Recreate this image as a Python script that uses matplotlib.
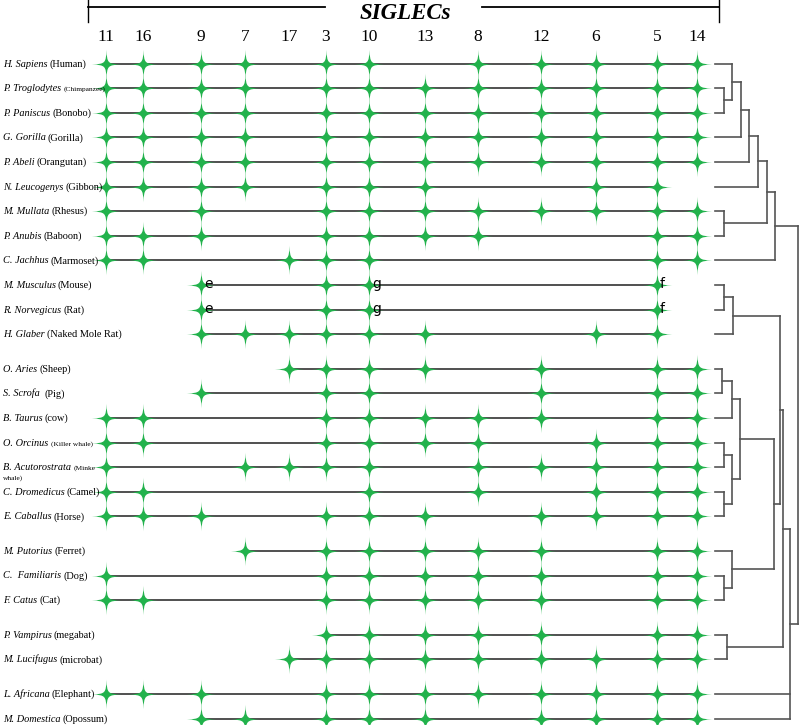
import matplotlib
matplotlib.use("Agg")
import matplotlib.pyplot as plt
from matplotlib.path import Path


# ---------------------------------------------------------------------
# Data.
# ---------------------------------------------------------------------

SIGLECS = [11, 16, 9, 7, 17, 3, 10, 13, 8, 12, 6, 5, 14]

SPECIES = [
    "H. Sapiens", "P. Troglodytes", "P. Paniscus", "G. Gorilla", "P. Abeli",
    "N. Leucogenys", "M. Mullata", "P. Anubis", "C. Jachhus",
    "M. Musculus", "R. Norvegicus", "H. Glaber",
    "O. Aries", "S. Scrofa ", "B. Taurus", "O. Orcinus", "B. Acutorostrata",
    "C. Dromedicus", "E. Caballus",
    "M. Putorius", "C.  Familiaris", "F. Catus",
    "P. Vampirus", "M. Lucifugus",
    "L. Africana", "M. Domestica",
]
COMMON = [
    "Human", "Chimpanzee", "Bonobo", "Gorilla", "Orangutan",
    "Gibbon", "Rhesus", "Baboon", "Marmoset",
    "Mouse", "Rat", "Naked Mole Rat",
    "Sheep", "Pig", "cow", "Killer whale", "Minke whale",
    "Camel", "Horse",
    "Ferret", "Dog", "Cat",
    "megabat", "microbat",
    "Elephant", "Opossum",
]
SMALL_COMMON = ["Chimpanzee", "Killer whale", "Minke whale"]

# SIGLECs found in each species (same order as SPECIES).
PRESENT = [
    [11, 16, 9, 7, 3, 10, 8, 12, 6, 5, 14],
    [11, 16, 9, 7, 3, 10, 13, 8, 12, 6, 5, 14],
    [11, 16, 9, 7, 3, 10, 13, 8, 12, 6, 5, 14],
    [11, 16, 9, 7, 3, 10, 13, 8, 12, 6, 5, 14],
    [11, 16, 9, 7, 3, 10, 13, 8, 12, 6, 5, 14],
    [11, 16, 9, 7, 3, 10, 13, 6, 5],
    [11, 9, 3, 10, 13, 8, 12, 6, 5, 14],
    [11, 16, 9, 3, 10, 13, 8, 5, 14],
    [11, 16, 17, 3, 10, 5, 14],
    [9, 3, 10, 5],
    [9, 3, 10, 5],
    [9, 7, 17, 3, 10, 13, 6, 5],
    [17, 3, 10, 13, 12, 5, 14],
    [9, 3, 10, 12, 5, 14],
    [11, 16, 3, 10, 13, 8, 12, 5, 14],
    [11, 16, 3, 10, 13, 8, 6, 5, 14],
    [11, 7, 17, 3, 10, 8, 12, 6, 5, 14],
    [11, 16, 10, 8, 6, 5, 14],
    [11, 16, 9, 3, 10, 13, 12, 6, 5, 14],
    [7, 3, 10, 13, 8, 12, 5, 14],
    [11, 3, 10, 13, 8, 12, 5, 14],
    [11, 16, 3, 10, 13, 8, 12, 5, 14],
    [3, 10, 13, 8, 12, 5, 14],
    [17, 3, 10, 13, 8, 12, 6, 5, 14],
    [11, 16, 9, 3, 10, 13, 8, 12, 6, 5, 14],
    [9, 7, 3, 10, 13, 12, 6, 5, 14],
]

# footnote letters next to some stars
NOTES = {
    "M. Musculus": {9: "e", 10: "g", 5: "f"},
    "R. Norvegicus": {9: "e", 10: "g", 5: "f"},
}

# rows per clade block (blocks are separated by a small gap)
GROUP_SIZES = [12, 7, 3, 2, 2]

# dendrogram: (height, [children]); leaves are row indices
TREE = (9.65, [
    (7.0, [
        (6.0, [
            (5.0, [(4.0, [(3.0, [(2.0, [0, (1.0, [1, 2])]), 3]), 4]), 5]),
            (1.0, [6, 7]),
        ]),
        8,
    ]),
    (8.72, [
        (7.9, [
            (7.56, [
                (2.1, [(1.05, [9, 10]), 11]),
                (6.86, [
                    (2.9, [
                        (2.0, [(0.8, [12, 13]), 14]),
                        (2.0, [(1.0, [15, 16]), (1.0, [17, 18])]),
                    ]),
                    (2.0, [19, (1.0, [20, 21])]),
                ]),
            ]),
            (1.4, [22, 23]),
        ]),
        24, 25,
    ]),
])

# ---------------------------------------------------------------------
# Layout.
# ---------------------------------------------------------------------

W, H = 800, 725
COL_X = [106, 143, 201, 245, 289, 326, 369, 425, 478, 541, 596, 657, 697]
Y0, STEP, GAP = 63.5, 24.6, 10
X_LEAF, UNIT = 715, 8.6
SERIF = "Liberation Serif"
GREEN = "#22b24c"
LINE = "#505050"
TREE_LINE = "#555555"

row_y = []
i = 0
for g, n in enumerate(GROUP_SIZES):
    for _ in range(n):
        row_y.append(Y0 + i * STEP + g * GAP)
        i += 1
col_x = dict(zip(SIGLECS, COL_X))

# four-pointed sparkle marker with concave sides
a, b = 0.03, 0.10
verts = [(0, 1), (a, b), (b, a), (1, 0),
         (b, -a), (a, -b), (0, -1),
         (-a, -b), (-b, -a), (-1, 0),
         (-b, a), (-a, b), (0, 1), (0, 1)]
codes = [Path.MOVETO] + [Path.CURVE4] * 12 + [Path.CLOSEPOLY]
SPARKLE = Path(verts, codes)

fig = plt.figure(figsize=(W / 100, H / 100), dpi=100)
ax = fig.add_axes([0, 0, 1, 1])
ax.set_xlim(0, W)
ax.set_ylim(H, 0)
ax.axis("off")
renderer = fig.canvas.get_renderer()

# --- header bracket + title ---
ax.plot([88, 325], [7, 7], color="black", lw=1.3)
ax.plot([482, 719], [7, 7], color="black", lw=1.3)
ax.plot([88, 88], [0, 22], color="black", lw=1.0)
ax.plot([719, 719], [0, 22], color="black", lw=1.0)
ax.text(405, 13, "SIGLECs", family=SERIF, fontsize=16.5, fontweight="bold",
        fontstyle="italic", ha="center", va="center")

for s, x in zip(SIGLECS, COL_X):
    ax.text(x, 37, str(s), family=SERIF, fontsize=12.5, ha="center",
            va="center")

# --- rows: line + stars ---
for k, (sp, present) in enumerate(zip(SPECIES, PRESENT)):
    y = row_y[k]
    xs = [col_x[s] for s in present]
    ax.plot([min(xs), max(xs)], [y, y], color=LINE, lw=1.4, zorder=1)
    ax.plot(xs, [y] * len(xs), ls="none", marker=SPARKLE, ms=21,
            mfc=GREEN, mec="none", zorder=2)
    for s, letter in NOTES.get(sp, {}).items():
        ax.text(col_x[s] + 3, y - 1, letter, family="DejaVu Sans",
                fontsize=10, ha="left", va="center", zorder=3)

# --- species labels (italic binomial + common name) ---
FS = 7.4
for k, (sp, com) in enumerate(zip(SPECIES, COMMON)):
    y = row_y[k] + 3
    t = ax.text(3, y, sp, family=SERIF, fontsize=FS, fontstyle="italic",
                ha="left", va="baseline")
    w = t.get_window_extent(renderer).width
    if com in SMALL_COMMON:
        parts = com.split(" ")
        if com == "Minke whale":
            ax.text(3 + w + 3, y, "(" + parts[0], family=SERIF, fontsize=5.3,
                    ha="left", va="baseline")
            ax.text(3, y + 10, parts[1] + ")", family=SERIF, fontsize=5.3,
                    ha="left", va="baseline")
        else:
            ax.text(3 + w + 3, y, "(" + com + ")", family=SERIF,
                    fontsize=5.3, ha="left", va="baseline")
    else:
        ax.text(3 + w + 2, y, "(" + com + ")", family=SERIF, fontsize=FS,
                ha="left", va="baseline")


# --- dendrogram ---
def draw_node(node):
    if isinstance(node, int):
        return X_LEAF, row_y[node]
    h, kids = node
    pts = [draw_node(c) for c in kids]
    x = X_LEAF + h * UNIT
    for cx, cy in pts:
        ax.plot([cx, x], [cy, cy], color=TREE_LINE, lw=1.2)
    ys = [p[1] for p in pts]
    ax.plot([x, x], [min(ys), max(ys)], color=TREE_LINE, lw=1.2)
    return x, (min(ys) + max(ys)) / 2


draw_node(TREE)

fig.savefig("out.png", dpi=100)
